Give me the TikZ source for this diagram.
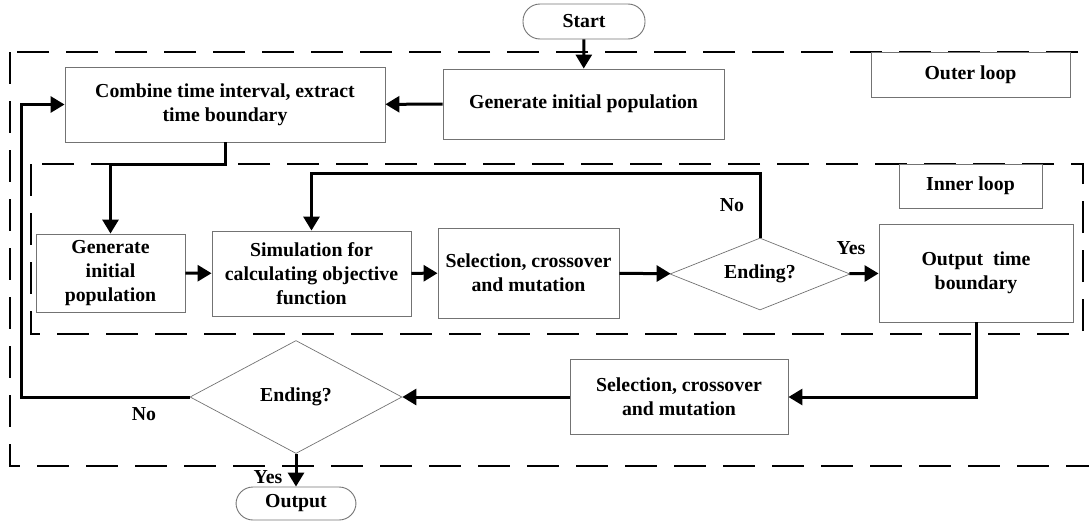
\documentclass[tikz,border=0pt]{standalone}
\usepackage{fontspec}
\setmainfont{Liberation Serif}
\usetikzlibrary{shapes.geometric,arrows.meta}
\begin{document}
\begin{tikzpicture}[x=1pt,y=-1pt,
    every node/.style={font=\fontsize{19.8}{24}\selectfont\bfseries, align=center},
    box/.style={rectangle, draw=black!55, line width=0.9pt, inner sep=0pt},
    term/.style={box, rounded corners=17pt},
    decision/.style={diamond, draw=black!55, line width=0.7pt, inner sep=0pt},
    frame/.style={dash pattern=on 32pt off 17pt, line width=2.6pt},
    line/.style={line width=3pt, -{Triangle[length=14pt,width=16pt]}}]
  \useasboundingbox (0,0) rectangle (1089,525);
  % loop frames
  \draw[frame] (10,52) rectangle (1110,466);
  \draw[frame] (31,164) rectangle (1083,334);
  % nodes
  \node[term, minimum width=122pt, minimum height=35pt] (start) at (584,21.5) {Start};
  \node[box, minimum width=281pt, minimum height=70pt] (gen) at (583.5,104) {Generate initial population};
  \node[box, minimum width=320pt, minimum height=75pt] (comb) at (225,104.5) {Combine time interval, extract\\time boundary};
  \node[box, minimum width=199pt, minimum height=45pt] (outerlbl) at (970.5,74.5) {Outer loop};
  \node[box, minimum width=143pt, minimum height=44pt] (innerlbl) at (970.5,186) {Inner loop};
  \node[box, minimum width=149pt, minimum height=78pt] (gen2) at (110.5,273) {Generate\\initial\\population};
  \node[box, minimum width=199pt, minimum height=85pt] (sim) at (311.5,273.5) {Simulation for\\calculating objective\\function};
  \node[box, minimum width=181pt, minimum height=90pt] (sel) at (528.5,273) {Selection, crossover\\and mutation};
  \node[decision, aspect=2.5, minimum width=180pt, minimum height=72pt] (end1) at (760,274) {Ending?};
  \node[box, minimum width=194pt, minimum height=98pt] (outb) at (976,273) {Output\ \ time\\boundary};
  \node[box, minimum width=218pt, minimum height=75pt] (sel2) at (679,397) {Selection, crossover\\and mutation};
  \node[decision, aspect=1.88, minimum width=212pt, minimum height=113pt] (end2) at (296,397) {Ending?};
  \node[term, minimum width=120pt, minimum height=33pt] (output) at (296,503.5) {Output};
  % labels
  \node (no1) at (732,205) {No};
  \node (yes1) at (851,248) {Yes};
  \node (no2) at (144,414) {No};
  \node (yes2) at (268,477) {Yes};
  % connectors
  \draw[line] (start) -- (gen);
  \draw[line] (gen) -- (comb);
  \draw[line] (comb.south) -- ++(0,22) -| (gen2.north);
  \draw[line] (gen2) -- (sim);
  \draw[line] (sim) -- (sel);
  \draw[line] (sel) -- (end1);
  \draw[line] (end1) -- (outb);
  \draw[line] (end1.north) -- ++(0,-64) -| (sim.north);
  \draw[line] (outb.south) |- (sel2);
  \draw[line] (sel2) -- (end2);
  \draw[line] (end2.west) -- ++(-168,0) |- (comb.west);
  \draw[line] (end2) -- (output);
\end{tikzpicture}
\end{document}
